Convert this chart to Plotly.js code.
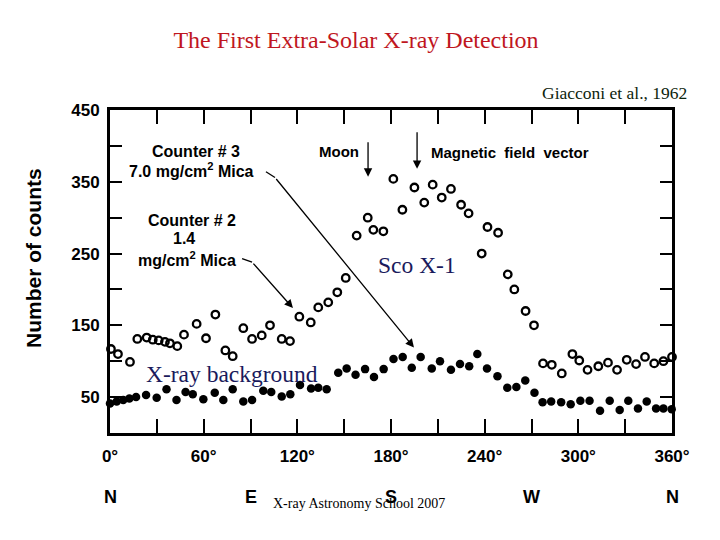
<!DOCTYPE html>
<html><head><meta charset="utf-8">
<script src="https://cdn.plot.ly/plotly-3.0.1.min.js"></script>
<style>html,body{margin:0;padding:0;background:#fff}#chart{width:720px;height:540px}</style>
</head><body><div id="chart"></div>
<script>
// Counter #2 (open circles): azimuth (deg) and number of counts
const azimuthOpen = [0.6,5.1,12.8,17.5,23.5,27.4,31.2,35.2,38.4,43.1,47.4,55.5,61.5,67.5,73.9,78.6,85.4,91,97.2,102.5,110,115.3,121.3,128.6,133.4,139.8,145.6,151,158,165.1,168.7,175.1,181.5,187.3,195,201.3,206.7,212.5,218.4,224.9,229.7,238.1,241.8,248.6,254.8,259,266.2,271.6,277.4,283,289.4,296.2,300.6,305.9,312.8,319,324.8,331,337,342.7,348.6,354.5,360];
const countsOpen = [117,110,99,131,133,130,129,127,125,121,137,152,132,165,115,107,146,131,136,150,131,128,162,154,175,182,196,216,275,300,283,281,354,311,342,321,346,328,340,318,306,250,287,279,221,200,170,150,97,95,83,110,101,88,93,98,88,102,96,106,97,100,106];
// Counter #3 (filled circles)
const azimuthFilled = [0,4.3,8.5,12.4,16.7,23.1,29.9,36.2,42.6,48.4,53,59.8,67.1,72.6,78.6,85.4,91,98.2,103.3,110,115.5,121.7,128.8,133.4,138.8,146.2,151.6,157.3,163.4,169.1,175.3,181.6,187.5,193.3,199,206.1,211.4,218.4,224.2,230.1,235.3,241.5,248.2,254.5,260.3,266,271.9,277.1,282.6,289,295.1,301.3,307.2,313.9,320.1,326.5,332,338.2,343.8,349.8,354.5,359.8];
const countsFilled = [41,44,46,48,50,53,49,61,46,57,54,47,56,46,61,44,46,59,57,51,54,67,62,63,61,84,90,81,89,78,89,103,106,91,106,90,100,88,96,93,110,90,79,63,64,73,56,43,44,43,40,45,45,31,45,32,45,34,44,34,34,33];

const xTickVals = [0,30,60,90,120,150,180,210,240,270,300,330,360];
const xTickText = ['0°','','60°','','120°','','180°','','240°','','300°','','360°'];
const yTickVals = [0,50,100,150,200,250,300,350,400,450];
const yTickText = ['','50','','150','','250','','350','','450'];
const compassLabels = ['N','E','S','W','N'];
const compassAzimuth = [0,90,180,270,360];

const L = 110, T = 110, W = 562, H = 323;
const pxX = p => (p - L) / W;
const pxY = p => (T + H - p) / H;

const sans = 'Liberation Sans, Arial, sans-serif';
const serif = 'Liberation Serif, Times New Roman, serif';

const traces = [
  {x: azimuthOpen, y: countsOpen, type: 'scatter', mode: 'markers', cliponaxis: false,
   marker: {symbol: 'circle-open', size: 7.5, color: '#000', line: {width: 2.3, color: '#000'}}, hoverinfo: 'x+y'},
  {x: azimuthFilled, y: countsFilled, type: 'scatter', mode: 'markers', cliponaxis: false,
   marker: {symbol: 'circle', size: 8.5, color: '#000'}, hoverinfo: 'x+y'}
];

function txt(text, x, y, size, opts) {
  return Object.assign({text: text, xref: 'paper', yref: 'paper', x: pxX(x), y: pxY(y),
    xanchor: 'center', yanchor: 'middle', showarrow: false,
    font: {family: sans, size: size, color: '#000', weight: 'bold'}}, opts || {});
}
function arrow(hx, hy, tx, ty) {
  return {xref: 'x', yref: 'y', axref: 'x', ayref: 'y', x: hx, y: hy, ax: tx, ay: ty,
    text: '', showarrow: true, arrowhead: 2, arrowsize: 1.3, arrowwidth: 1.3, arrowcolor: '#000'};
}

const annotations = [
  txt('Giacconi et al., 1962', 614, 93, 17.5, {font: {family: serif, size: 17.5, color: '#0d240d'}}),
  txt('Number of counts', 33, 258, 21, {textangle: -90}),
  txt('Counter # 3', 196, 151, 16),
  txt('7.0 mg/cm<sup>2</sup> Mica', 191, 170, 16),
  txt('Counter # 2', 192, 220, 16),
  txt('1.4', 184, 239, 16),
  txt('mg/cm<sup>2</sup> Mica', 187, 259, 16),
  txt('Moon', 339, 151, 15),
  txt('Magnetic  field  vector', 510, 152, 15),
  txt('Sco X-1', 417, 265, 23.5, {font: {family: serif, size: 23.5, color: '#1a1a5c'}}),
  txt('X-ray background', 232, 374, 23.5, {font: {family: serif, size: 23.5, color: '#1a1a5c'}}),
  txt('X-ray Astronomy School 2007', 359, 503, 14, {font: {family: serif, size: 14, color: '#000'}}),
  arrow(165.3, 357, 165.3, 407),
  arrow(196.7, 368, 196.7, 421),
  arrow(194.7, 119, 105.7, 356),
  arrow(117.2, 174, 91, 238)
];
compassLabels.forEach((c, i) => {
  annotations.push({text: c, xref: 'x', yref: 'paper', x: compassAzimuth[i], y: pxY(497),
    xanchor: 'center', yanchor: 'middle', showarrow: false,
    font: {family: sans, size: 18, color: '#000', weight: 'bold'}});
});

const shapes = [
  {type: 'line', xref: 'x', yref: 'y', x0: 99.9, y0: 364, x1: 105.7, y1: 356, line: {color: '#000', width: 1.3}},
  {type: 'line', xref: 'x', yref: 'y', x0: 84.6, y0: 243, x1: 91, y1: 238, line: {color: '#000', width: 1.3}}
];

const layout = {
  width: 720, height: 540,
  margin: {l: L, r: 720 - L - W, t: T, b: 540 - T - H},
  paper_bgcolor: '#fff', plot_bgcolor: '#fff',
  showlegend: false,
  title: {text: 'The First Extra-Solar X-ray Detection', x: 356 / 720, xanchor: 'center',
    y: 1 - 40 / 540, yanchor: 'middle', font: {family: serif, size: 24, color: '#c0161e'}},
  xaxis: {range: [0, 360], tickvals: xTickVals, ticktext: xTickText, ticks: 'inside', ticklen: 14,
    tickwidth: 2, tickcolor: '#000', showline: true, linewidth: 3, linecolor: '#000', mirror: 'ticks',
    showgrid: false, zeroline: false, tickfont: {family: sans, size: 17, color: '#000', weight: 'bold'},
    ticklabelstandoff: 6},
  yaxis: {range: [0, 450], tickvals: yTickVals, ticktext: yTickText, ticks: 'inside', ticklen: 12,
    tickwidth: 2, tickcolor: '#000', showline: true, linewidth: 3, linecolor: '#000', mirror: 'ticks',
    showgrid: false, zeroline: false, tickfont: {family: sans, size: 17, color: '#000', weight: 'bold'},
    ticklabelstandoff: 4},
  annotations: annotations,
  shapes: shapes
};

Plotly.newPlot('chart', traces, layout, {displayModeBar: false, staticPlot: true});
</script>
</body></html>
